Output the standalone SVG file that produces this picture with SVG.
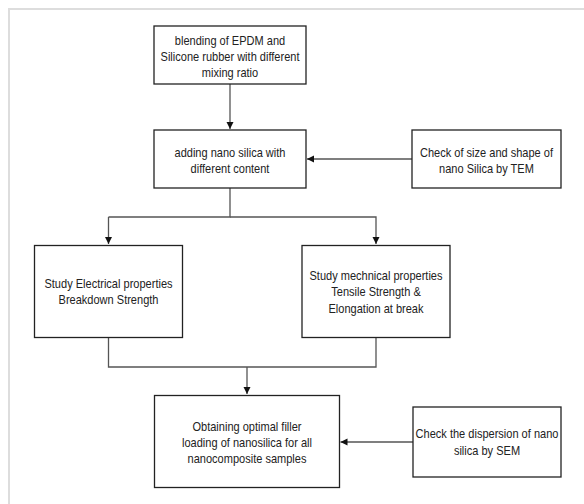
<svg xmlns="http://www.w3.org/2000/svg" width="584" height="504" viewBox="0 0 584 504">
<style>
.box{fill:#fff;stroke:#222;stroke-width:1.3}
.t{font-family:"Liberation Sans",Arial,sans-serif;font-size:12px;fill:#222;text-anchor:middle}
.c{fill:none;stroke:#555;stroke-width:1.3}
</style>
<defs>
<marker id="ah" markerWidth="8" markerHeight="8" refX="7" refY="4" orient="auto" markerUnits="userSpaceOnUse">
<path d="M0,0.5 L7,4 L0,7.5 Z" fill="#111"/>
</marker>
</defs>
<rect x="0" y="0" width="584" height="504" fill="#fff"/>
<path d="M9,504 V9 H584" fill="none" stroke="#ddd" stroke-width="2"/>
<g id="connectors">
<path class="c" d="M230,84 V129" marker-end="url(#ah)"/>
<path class="c" d="M412,159 H307" marker-end="url(#ah)"/>
<path class="c" d="M230,188 V217 H108.5"/>
<path class="c" d="M230,217 H376 V244" marker-end="url(#ah)"/>
<path class="c" d="M108.5,217 V244" marker-end="url(#ah)"/>
<path class="c" d="M108.5,338 V367 H376 V338"/>
<path class="c" d="M247,367 V394" marker-end="url(#ah)"/>
<path class="c" d="M413,442 H340.5" marker-end="url(#ah)"/>
</g>
<g id="n1">
<rect class="box" x="154" y="26" width="152" height="58"/>
<g transform="translate(230,0) scale(0.92,1)">
<text class="t" x="0" y="45.5">blending of EPDM and</text>
<text class="t" x="0" y="61.5">Silicone rubber with different</text>
<text class="t" x="0" y="77.5">mixing ratio</text>
</g>
</g>
<g id="n2">
<rect class="box" x="154" y="130" width="152" height="58"/>
<g transform="translate(230,0) scale(0.92,1)">
<text class="t" x="0" y="157">adding nano silica with</text>
<text class="t" x="0" y="173">different content</text>
</g>
</g>
<g id="n3">
<rect class="box" x="412" y="130" width="149" height="58"/>
<g transform="translate(486.5,0) scale(0.92,1)">
<text class="t" x="0" y="157">Check of size and shape of</text>
<text class="t" x="0" y="173">nano Silica by TEM</text>
</g>
</g>
<g id="n4">
<rect class="box" x="34.5" y="245.5" width="148" height="92"/>
<g transform="translate(108.5,0) scale(0.92,1)">
<text class="t" x="0" y="288.5">Study Electrical properties</text>
<text class="t" x="0" y="304.5">Breakdown Strength</text>
</g>
</g>
<g id="n5">
<rect class="box" x="302" y="245.5" width="148" height="92"/>
<g transform="translate(376,0) scale(0.92,1)">
<text class="t" x="0" y="280">Study mechnical properties</text>
<text class="t" x="0" y="296.5">Tensile Strength &amp;</text>
<text class="t" x="0" y="313.5">Elongation at break</text>
</g>
</g>
<g id="n6">
<rect class="box" x="154.5" y="395.5" width="185" height="92"/>
<g transform="translate(247,0) scale(0.92,1)">
<text class="t" x="0" y="431">Obtaining optimal filler</text>
<text class="t" x="0" y="447">loading of nanosilica for all</text>
<text class="t" x="0" y="463">nanocomposite samples</text>
</g>
</g>
<g id="n7">
<rect class="box" x="413" y="407" width="148" height="70"/>
<g transform="translate(487,0) scale(0.92,1)">
<text class="t" x="0" y="438">Check the dispersion of nano</text>
<text class="t" x="0" y="455">silica by SEM</text>
</g>
</g>
</svg>
